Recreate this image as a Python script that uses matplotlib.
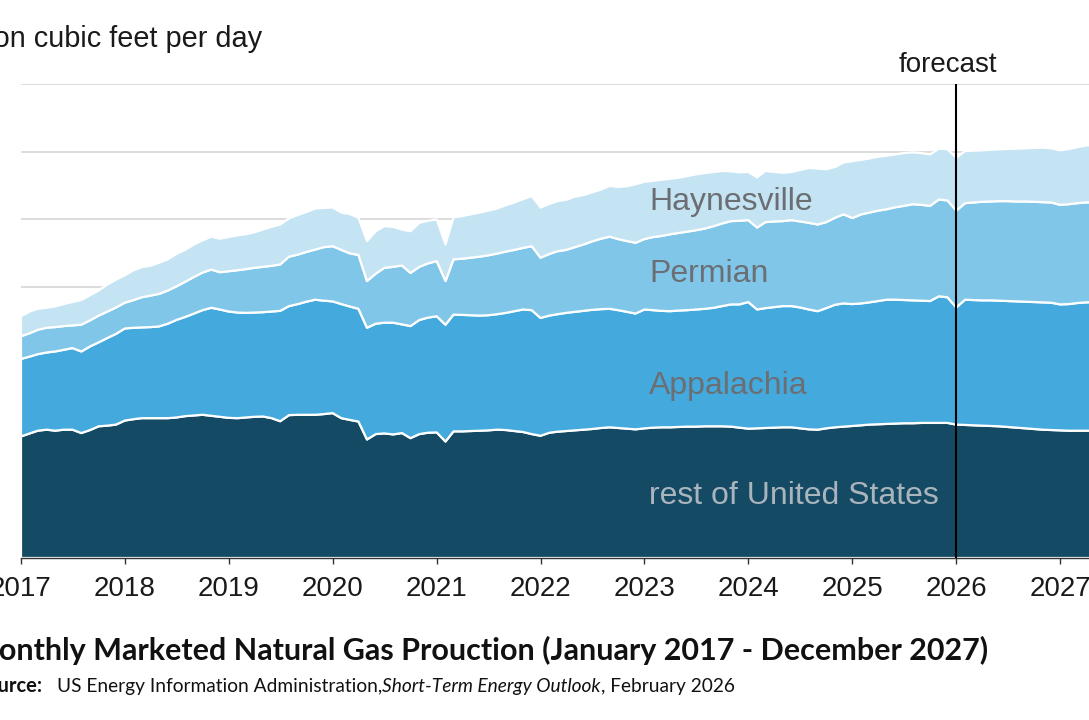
import matplotlib.pyplot as plt
import numpy as np
import pandas as pd

months = pd.date_range("2017-01-01", periods=132, freq="MS")
years = list(range(2017, 2028))

# top edge of each layer (billion cubic feet per day), Jan 2017 - Dec 2027
rest_top = [
    35.9, 36.8, 37.6, 37.9, 37.6, 37.9, 37.9, 36.9, 37.8, 38.9, 39.1, 39.4,
    40.6, 41.0, 41.3, 41.3, 41.3, 41.3, 41.5, 41.9, 42.1, 42.3, 42.0, 41.7,
    41.4, 41.3, 41.5, 41.7, 41.8, 41.3, 40.4, 42.2, 42.3, 42.3, 42.3, 42.5,
    42.8, 41.3, 40.8, 40.3, 35.0, 36.6, 36.8, 36.5, 36.9, 35.4, 36.6, 37.0,
    37.1, 34.4, 37.4, 37.4, 37.5, 37.6, 37.7, 37.9, 37.8, 37.5, 37.2, 36.6,
    36.1, 37.0, 37.3, 37.5, 37.7, 37.9, 38.1, 38.4, 38.6, 38.4, 38.2, 38.0,
    38.3, 38.5, 38.6, 38.6, 38.7, 38.8, 38.8, 38.9, 38.9, 38.9, 38.8, 38.5,
    38.2, 38.3, 38.4, 38.5, 38.6, 38.6, 38.3, 38.0, 37.9, 38.3, 38.6, 38.8,
    39.0, 39.2, 39.4, 39.5, 39.6, 39.7, 39.8, 39.8, 39.9, 39.9, 39.9, 39.9,
    39.4, 39.3, 39.2, 39.1, 39.0, 38.9, 38.7, 38.5, 38.3, 38.1, 37.9, 37.8,
    37.7, 37.6, 37.6, 37.6, 37.6, 37.6, 37.7, 37.7, 37.8, 37.8, 37.9, 37.9,
]
appalachia_top = [
    58.8, 59.5, 60.2, 60.7, 61.0, 61.5, 62.0, 61.0, 62.5, 63.7, 65.0, 66.2,
    67.8, 68.0, 68.1, 68.2, 68.4, 69.2, 70.3, 71.2, 72.2, 73.2, 73.9, 73.4,
    72.8, 72.5, 72.4, 72.5, 72.6, 72.8, 73.0, 74.4, 75.0, 75.7, 76.3, 76.0,
    75.8, 75.0, 74.3, 73.6, 68.0, 69.2, 69.5, 69.5, 69.0, 68.5, 70.3, 71.0,
    71.4, 68.9, 71.9, 71.8, 71.7, 71.6, 71.7, 72.0, 72.4, 72.9, 73.4, 73.2,
    70.9, 71.6, 72.0, 72.4, 72.7, 73.0, 73.3, 73.5, 73.6, 73.2, 72.7, 72.2,
    73.4, 73.2, 73.0, 72.9, 73.1, 73.2, 73.4, 73.6, 73.9, 74.4, 74.9, 74.9,
    75.6, 73.4, 73.8, 74.1, 74.4, 74.4, 74.0, 73.4, 72.9, 73.8, 74.8, 75.2,
    75.0, 75.2, 75.5, 75.9, 76.3, 76.3, 76.2, 76.1, 76.0, 75.9, 77.3, 77.0,
    74.0, 76.3, 76.2, 76.1, 76.1, 76.0, 75.9, 75.8, 75.7, 75.6, 75.5, 75.4,
    74.9, 75.0, 75.3, 75.5, 75.6, 75.7, 75.8, 75.9, 76.0, 76.1, 76.2, 76.3,
]
permian_top = [
    65.5, 66.4, 67.4, 68.0, 68.2, 68.5, 68.7, 68.9, 70.2, 71.6, 72.8, 74.0,
    75.4, 76.2, 77.0, 77.5, 78.0, 79.0, 80.2, 81.6, 83.0, 84.3, 85.2, 84.4,
    84.7, 85.0, 85.3, 85.7, 86.0, 86.3, 86.7, 89.0, 89.6, 90.4, 91.1, 91.8,
    92.1, 91.0, 90.0, 89.5, 81.8, 84.0, 85.7, 86.0, 86.4, 84.2, 86.0, 87.0,
    87.7, 81.8, 88.2, 88.4, 88.7, 89.0, 89.4, 89.9, 90.5, 91.0, 91.6, 92.1,
    88.7, 89.8, 90.6, 91.0, 91.8, 92.6, 93.5, 94.3, 94.9, 94.2, 93.6, 93.1,
    94.2, 94.8, 95.1, 95.6, 96.0, 96.4, 96.8, 97.3, 98.0, 98.8, 99.5, 99.6,
    99.8, 97.6, 99.2, 99.4, 99.5, 99.8, 99.4, 99.0, 98.5, 99.2, 100.5, 101.5,
    100.4, 101.5, 102.0, 102.6, 103.0, 103.6, 104.0, 104.5, 104.3, 104.0, 105.9, 105.6,
    102.6, 104.8, 105.0, 105.2, 105.3, 105.4, 105.4, 105.3, 105.3, 105.2, 105.1, 105.0,
    104.3, 104.5, 104.8, 105.0, 105.1, 105.2, 105.3, 105.4, 105.5, 105.6, 105.7, 105.8,
]
haynesville_top = [
    71.4, 72.8, 73.6, 73.9, 74.3, 75.0, 75.6, 76.2, 77.6, 79.0, 80.8, 82.2,
    83.5, 85.0, 85.9, 86.3, 87.2, 88.2, 89.8, 91.0, 92.6, 93.8, 94.9, 94.3,
    94.8, 95.3, 95.6, 96.2, 97.0, 97.8, 98.5, 100.3, 101.3, 102.2, 103.2, 103.4,
    103.5, 102.0, 101.6, 100.5, 93.6, 96.5, 98.0, 97.8, 97.0, 96.5, 99.0, 99.6,
    100.0, 92.6, 100.6, 101.0, 101.5, 102.0, 102.6, 103.2, 104.2, 105.0, 106.0, 106.9,
    103.5, 104.6, 105.4, 105.8, 106.7, 107.2, 108.0, 108.8, 109.9, 109.6, 109.8, 110.4,
    111.1, 111.4, 111.7, 112.0, 112.3, 112.8, 113.3, 113.7, 114.0, 114.3, 114.2, 113.9,
    114.0, 112.4, 114.3, 114.0, 113.8, 114.0, 114.6, 115.2, 115.0, 114.8, 115.5, 116.8,
    117.2, 117.6, 118.0, 118.5, 118.8, 119.2, 119.6, 119.8, 119.6, 119.2, 120.9, 120.7,
    118.2, 120.2, 120.3, 120.4, 120.6, 120.7, 120.8, 120.9, 121.0, 121.1, 121.2, 121.0,
    120.4, 120.8, 121.3, 121.8, 122.0, 122.1, 122.2, 122.3, 122.4, 122.5, 122.6, 122.7,
]

rest = np.array(rest_top)
appalachia = np.array(appalachia_top) - np.array(rest_top)
permian = np.array(permian_top) - np.array(appalachia_top)
haynesville = np.array(haynesville_top) - np.array(permian_top)

colors = ["#144a64", "#44aadd", "#80c6e8", "#c4e3f3"]
W, H = 1089, 720

fig = plt.figure(figsize=(W / 100, H / 100), dpi=100)
# the original picture is cropped: axes run off the left and right edges
ax = fig.add_axes([21 / W, 162 / H, 1143 / W, 474 / H])

ax.stackplot(months, rest, appalachia, permian, haynesville,
             colors=colors, edgecolor="white", linewidth=1.6, zorder=2)

ax.set_xlim(pd.Timestamp("2017-01-01"), pd.Timestamp("2028-01-01"))
ax.set_ylim(0, 140)
ax.set_yticks(range(0, 141, 20))
ax.yaxis.grid(True, color="#d9d9d9", linewidth=1.3)
ax.set_axisbelow(True)
ax.tick_params(axis="y", left=False, labelleft=False)
for s in ["top", "right", "left"]:
    ax.spines[s].set_visible(False)
ax.spines["bottom"].set_color("#333333")
ax.spines["bottom"].set_linewidth(1.0)

ax.set_xticks([pd.Timestamp(f"{y}-01-01") for y in years])
ax.set_xticklabels([str(y) for y in years], fontsize=20, family="Liberation Sans", color="#1a1a1a")
ax.tick_params(axis="x", length=4, width=1, color="#333333", pad=9)

ax.axvline(pd.Timestamp("2026-01-01"), color="black", linewidth=1.5, zorder=3)

sans = ["Liberation Sans Narrow", "Liberation Sans", "DejaVu Sans"]
fig.text(948 / W, 1 - 72 / H, "forecast", ha="center", va="baseline", fontsize=20,
         family=sans, color="#1a1a1a")
fig.text(262 / W, 1 - 47 / H, "billion cubic feet per day", ha="right", va="baseline",
         fontsize=20.8, family="Liberation Sans", color="#1a1a1a")

lab = dict(fontsize=23, family="Liberation Sans", va="baseline", ha="left")
fig.text(649 / W, 1 - 210 / H, "Haynesville", color="#6b6e72", **lab)
fig.text(649 / W, 1 - 282 / H, "Permian", color="#6b6e72", **lab)
fig.text(649 / W, 1 - 394 / H, "Appalachia", color="#6b6e72", **lab)
fig.text(649 / W, 1 - 504 / H, "rest of United States", color="#aab4bc", **lab)

fig.text(988 / W, 1 - 660 / H, "Monthly Marketed Natural Gas Prouction (January 2017 - December 2027)",
         ha="right", va="baseline", fontsize=22, fontweight="bold", family="Lato", color="#111111")

# source line, mixed bold / regular / italic pieces
fig.canvas.draw()
r = fig.canvas.get_renderer()
sy = 1 - 692 / H
fig.text(43 / W, sy, "Source:", ha="right", va="baseline", fontsize=14.5, fontweight="bold",
         family="Lato", color="#111111")
x = 57
for txt, st in [("US Energy Information Administration,", "normal"),
                ("Short-Term Energy Outlook", "italic"),
                (", February 2026", "normal")]:
    t = fig.text(x / W, sy, txt, ha="left", va="baseline", fontsize=13.8, style=st,
                 family="Lato", color="#111111")
    x = t.get_window_extent(r).x1

fig.savefig("out.png", dpi=100)
